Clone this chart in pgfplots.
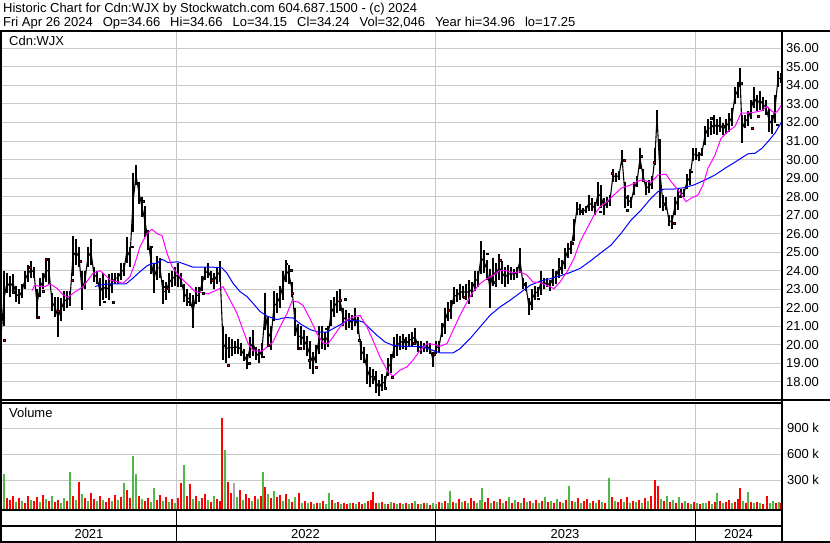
\documentclass[border=0pt]{standalone}
\usepackage{pgfplots}
\pgfplotsset{compat=1.18}
\usepackage{pgfplotstable}
\usepackage{fontspec}
\setmainfont{Liberation Sans}

\definecolor{gridgray}{RGB}{200,200,200}
\definecolor{volred}{RGB}{255,0,0}
\definecolor{volgreen}{RGB}{80,184,72}
\definecolor{volgray}{RGB}{168,168,168}
\definecolor{mafast}{RGB}{255,0,255}
\definecolor{maslow}{RGB}{0,0,255}

% daily range (low/high), x in chart columns
\pgfplotstableread{
x lo hi
1 20.3 20.7
4 21.0 24.0
7 22.8 23.9
10 22.6 23.7
13 22.9 23.8
16 22.3 23.2
19 22.2 23.0
22 22.5 23.3
25 23.0 24.0
28 23.4 24.3
31 23.6 24.5
34 23.6 24.2
37 21.4 23.0
40 22.6 23.6
43 23.0 23.9
46 23.4 24.6
49 23.3 24.7
52 21.8 22.8
55 21.5 22.6
58 20.4 22.6
61 21.3 22.5
64 21.8 22.9
67 22.0 22.9
70 22.1 22.9
73 23.7 25.9
76 24.3 25.7
79 24.2 25.3
82 21.9 24.0
85 23.0 24.0
88 24.2 25.3
91 24.3 25.7
94 23.4 24.2
97 23.3 24.0
100 22.1 23.6
103 22.4 23.9
106 22.5 23.5
109 22.4 23.8
112 22.8 23.9
115 23.3 23.9
118 23.3 23.9
121 23.5 24.4
124 23.7 24.4
127 24.4 25.8
130 24.2 25.3
133 26.1 29.3
136 28.6 29.7
139 27.6 28.8
142 26.9 28.0
145 25.8 27.5
148 25.1 26.2
151 23.8 25.3
154 22.8 24.4
157 23.5 24.8
160 23.6 24.7
163 22.2 23.5
166 22.4 23.4
169 22.8 23.9
172 23.1 24.0
175 23.2 24.2
178 23.1 24.4
181 23.1 23.9
184 22.3 23.3
187 22.1 23.0
190 22.1 22.8
193 20.9 22.7
196 22.2 23.1
199 22.3 23.1
202 22.9 23.7
205 23.5 24.2
208 23.6 24.4
211 23.3 24.0
214 23.0 23.9
217 23.3 24.2
220 23.4 24.5
223 19.2 21.0
226 19.0 20.6
229 19.3 20.4
232 19.4 20.3
235 19.5 20.2
238 19.5 20.3
241 19.4 20.1
244 19.1 19.8
247 18.7 19.5
250 19.3 20.4
253 19.4 20.8
256 19.2 19.9
259 19.0 19.8
262 19.3 20.1
265 20.8 22.8
268 19.9 21.5
271 19.7 21.0
274 21.3 22.9
277 21.7 22.8
280 22.0 23.2
283 22.4 24.0
286 23.4 24.6
289 23.3 24.3
292 22.6 23.4
295 20.5 22.0
298 19.7 21.1
301 20.0 21.0
304 19.7 20.8
307 19.4 20.5
310 18.7 20.2
313 18.4 19.6
316 19.0 20.0
319 19.5 21.0
322 19.8 21.0
325 19.7 20.7
328 19.9 21.0
331 21.0 22.4
334 21.5 22.6
337 21.7 22.9
340 21.8 23.0
343 21.0 22.0
346 20.8 21.9
349 20.9 21.7
352 20.8 21.6
355 21.0 22.0
358 20.6 21.5
361 19.2 20.2
364 19.0 19.9
367 17.9 19.5
370 17.7 18.8
373 17.9 18.7
376 17.4 18.6
379 17.25 18.1
382 17.5 18.4
385 17.6 18.3
388 18.3 19.3
391 18.5 19.5
394 19.3 20.4
397 19.4 20.6
400 19.7 20.5
403 19.8 20.6
406 19.7 20.4
409 19.9 20.6
412 19.9 20.7
415 20.0 20.9
418 19.6 20.2
421 19.5 20.2
424 19.6 20.1
427 19.6 20.2
430 19.5 20.1
433 18.8 19.6
436 19.5 20.2
439 19.6 20.2
442 20.4 21.2
445 20.6 22.0
448 21.3 22.3
451 21.4 22.4
454 22.2 23.1
457 22.3 23.0
460 22.4 23.3
463 22.5 23.2
466 22.4 23.3
469 22.2 23.5
472 22.6 23.4
475 22.9 24.0
478 23.1 24.0
481 23.8 25.6
484 23.9 25.1
487 23.5 24.6
490 22.0 24.1
493 23.2 24.7
496 23.1 24.4
499 23.5 24.9
502 23.3 24.5
505 23.1 24.2
508 23.3 24.3
511 23.5 24.2
514 23.5 24.1
517 23.6 24.2
520 23.9 25.2
523 23.0 23.6
526 22.9 23.4
529 21.6 22.5
532 21.9 23.0
535 22.4 23.2
538 22.6 23.1
541 22.7 24.0
544 23.0 23.6
547 23.1 23.6
550 22.9 23.5
553 23.2 24.1
556 23.3 24.0
559 23.6 24.7
562 23.8 24.6
565 24.1 25.2
568 24.7 25.5
571 24.9 25.6
574 25.6 26.8
577 27.0 27.7
580 27.0 27.6
583 27.0 27.4
586 27.1 27.5
589 27.2 28.1
592 27.2 27.9
595 27.0 27.7
598 27.5 28.8
601 27.4 28.6
604 27.0 27.9
607 27.4 28.0
610 27.5 28.1
613 28.8 29.5
616 28.8 29.3
619 28.9 29.4
622 29.7 30.5
625 27.4 28.8
628 27.5 28.1
631 27.4 28.0
634 28.1 28.8
637 28.5 29.1
640 29.5 30.6
643 28.8 29.5
646 28.1 28.8
649 28.2 28.9
652 28.4 29.1
655 29.7 30.6
657 32.0 32.65
660 27.4 31.1
663 27.2 28.1
666 27.3 28.0
669 26.4 27.0
672 26.25 27.0
675 27.0 28.0
678 27.3 28.4
681 27.9 28.4
684 28.0 28.4
687 28.4 29.2
690 28.6 29.5
693 29.9 30.6
696 30.0 30.6
699 29.9 30.4
702 30.2 30.6
705 30.8 31.8
708 31.2 32.2
711 31.3 32.1
714 31.4 32.4
717 31.3 32.2
720 31.5 32.3
723 31.3 32.0
726 31.4 32.2
729 31.5 32.5
732 31.8 32.8
735 33.0 33.9
738 33.3 34.2
740 33.9 34.96
742 30.9 32.4
745 31.7 32.4
748 31.8 32.6
751 32.2 33.2
754 32.8 33.9
757 32.6 33.5
760 32.7 33.7
763 32.6 33.4
766 32.4 33.2
769 31.5 32.8
772 31.4 32.4
775 32.0 33.5
778 33.9 34.8
781 34.15 34.66
}\pricedata

% closing prints shown in red
\pgfplotstableread{
x c
4 20.26
13 22.84
30 24.19
38 21.47
43 22.9
46 24.6
58 21.8
72 23.47
80 24.5
104 22.33
113 22.28
132 25.3
143 27.74
151 25.3
164 23.14
168 23.05
188 22.33
203 22.78
212 23.5
228 18.9
249 19.0
263 19.36
268 19.99
286 24.38
291 24.02
292 22.8
300 19.8
309 19.17
316 18.8
326 20.87
340 22.4
345 22.46
359 20.24
373 18.27
385 17.64
392 18.27
403 20.24
414 20.1
434 19.5
448 21.86
464 22.55
487 24.92
495 23.39
500 24.56
523 23.3
530 22.22
538 22.49
559 24.12
572 25.47
580 27.18
600 27.18
612 29.26
624 29.98
627 27.27
641 30.16
654 29.86
663 27.6
674 26.55
691 29.35
711 32.24
723 31.79
741 34.13
752 31.7
758 32.33
777 31.88
781 34.22
}\closedata

% short moving average
\pgfplotstableread{
x m
32 22.93
35 23.23
40 23.14
45 23.14
50 23.29
57 23.05
63 22.70
68 22.57
73 22.78
78 22.96
83 23.14
88 23.50
93 23.86
100 24.00
105 23.77
110 23.50
117 23.41
123 23.32
130 23.68
135 24.40
140 25.30
147 26.00
152 26.24
157 26.00
162 25.90
167 24.95
172 24.23
177 23.86
183 23.50
190 23.14
195 22.87
202 22.82
208 22.75
217 22.96
223 23.14
230 22.42
237 21.70
243 20.80
248 20.08
253 19.68
262 19.66
267 19.88
273 20.15
280 20.96
287 21.68
292 22.37
298 22.31
303 22.13
310 21.41
317 20.60
323 20.10
328 20.06
333 20.42
340 20.96
347 21.36
353 21.50
360 21.59
367 20.96
373 20.24
380 19.34
388 18.54
393 18.30
400 18.63
407 18.81
413 19.17
420 19.70
427 20.06
433 20.03
440 19.92
447 20.06
453 20.78
460 21.59
467 22.31
473 22.85
480 23.30
487 23.57
493 23.75
500 24.02
507 23.99
513 23.88
520 23.95
527 23.75
533 23.39
540 23.36
547 23.21
554 23.03
560 23.39
567 23.94
574 24.66
580 25.56
587 26.28
594 27.00
600 27.45
607 27.73
614 28.09
621 28.45
626 28.54
631 28.63
637 28.81
642 28.90
651 28.77
658 29.17
666 29.21
671 28.81
678 28.36
686 27.73
691 27.91
698 28.09
703 28.63
708 29.53
715 30.25
721 31.15
728 31.52
735 31.79
741 32.51
748 32.51
755 32.56
762 32.64
767 32.87
772 32.60
775 32.51
778 32.64
782 33.00
}\mafastdata

% long moving average
\pgfplotstableread{
x m
95 23.14
100 23.23
110 23.29
120 23.29
126 23.29
133 23.60
140 23.95
147 24.26
152 24.40
157 24.40
162 24.62
168 24.44
178 24.48
187 24.31
193 24.19
203 24.19
213 24.19
222 24.15
227 23.86
233 23.32
240 22.87
247 22.60
253 22.24
260 21.80
267 21.55
277 21.36
285 21.47
293 21.45
300 21.14
310 20.82
318 20.69
327 20.69
333 20.87
342 21.14
347 21.32
357 21.32
363 21.23
370 20.87
377 20.51
385 20.15
393 19.97
403 19.92
413 19.92
423 19.88
433 19.70
440 19.56
453 19.56
460 19.79
470 20.33
480 20.96
490 21.59
500 22.04
510 22.40
520 22.80
530 23.21
540 23.43
550 23.57
560 23.72
570 23.90
580 24.12
590 24.51
600 24.93
611 25.38
621 26.01
631 26.73
641 27.27
651 27.91
658 28.27
664 28.41
674 28.41
684 28.48
694 28.63
705 28.90
715 29.17
725 29.53
735 29.86
741 30.07
748 30.31
755 30.34
762 30.61
768 30.97
775 31.43
782 32.06
}\maslowdata

% volume in thousands; c: 0 down, 1 up, 2 unchanged
\pgfplotstableread{
x v c
1 60 1
4 365 1
7 90 0
10 70 0
13 110 0
16 50 1
19 95 0
22 60 1
25 40 0
28 120 0
31 70 1
34 55 0
37 100 0
40 45 1
43 130 0
46 80 1
49 60 0
52 110 1
55 50 0
58 75 0
61 40 1
64 95 1
67 60 0
70 388 1
73 120 0
76 70 1
79 273 0
82 140 1
85 90 0
88 60 1
91 150 0
94 80 0
97 55 1
100 110 0
103 70 1
106 45 0
109 90 0
112 60 1
115 130 0
118 75 1
121 100 0
124 265 1
127 185 0
130 90 0
133 577 1
136 365 1
139 120 0
142 80 1
145 60 0
148 95 0
151 50 1
154 211 1
157 70 0
160 130 0
163 60 1
166 100 0
169 45 1
172 80 0
175 40 1
178 90 0
181 269 0
184 473 1
187 120 0
190 250 0
193 80 1
196 110 0
199 60 1
202 95 0
205 140 0
208 70 1
211 50 0
214 110 1
217 80 0
220 60 0
222 1019 0
225 646 1
228 273 0
231 150 0
234 269 2
237 100 1
240 180 0
243 70 1
246 140 0
249 90 0
252 60 1
255 120 0
258 80 1
261 110 0
263 388 1
265 223 0
268 140 1
271 90 0
274 170 1
277 100 0
280 130 0
283 60 1
286 135 0
289 80 1
292 50 0
295 100 1
299 154 0
302 40 1
305 60 0
308 30 1
311 50 0
314 25 1
317 40 0
320 30 1
323 55 0
326 20 1
329 150 1
332 70 0
335 30 1
338 45 0
341 25 1
344 35 0
347 20 0
350 40 1
353 30 0
356 25 1
359 45 0
362 20 0
365 35 1
368 60 0
371 70 0
373 158 0
376 40 0
379 30 1
382 50 0
385 25 1
388 20 0
391 45 1
394 30 0
397 20 1
400 35 0
403 25 1
406 40 0
409 20 1
412 30 0
415 55 1
418 25 0
421 20 1
424 35 0
427 30 1
430 15 0
433 40 1
436 25 1
439 45 0
442 30 1
445 60 0
448 40 1
450 173 1
453 50 0
456 35 1
459 80 0
462 45 1
465 60 0
468 30 1
471 90 0
474 55 0
477 40 1
480 70 1
482 204 1
485 50 0
488 90 0
491 35 1
494 60 0
497 45 1
500 80 0
503 30 1
506 60 0
509 100 1
512 40 0
515 70 1
518 50 0
521 35 1
524 90 0
527 45 1
530 60 0
533 30 1
536 75 0
539 40 1
542 55 0
545 100 1
548 45 0
551 60 1
554 30 0
557 80 1
560 50 0
563 40 1
566 70 0
569 235 1
572 60 0
575 45 1
578 90 0
581 35 1
584 55 0
587 80 0
590 40 1
593 60 0
596 30 1
599 75 0
602 50 1
605 40 0
609 327 1
612 100 0
615 60 1
618 45 0
621 80 0
624 50 1
627 100 0
630 35 1
633 60 0
636 45 1
639 70 0
642 40 1
645 90 0
648 55 1
651 110 0
655 300 0
658 235 0
661 80 1
664 60 0
667 120 1
670 45 0
673 70 1
676 40 0
679 100 1
682 30 0
685 60 1
688 40 0
691 25 1
694 50 0
697 35 1
700 20 0
703 40 1
706 30 1
709 55 0
712 25 1
715 45 0
717 154 1
720 60 0
723 30 1
726 45 0
729 70 0
732 35 1
735 50 0
738 80 0
740 204 0
743 60 1
746 40 0
748 158 1
751 50 0
754 30 1
757 45 0
760 35 1
763 25 0
767 119 0
770 40 1
773 55 1
776 30 0
779 45 1
781 32 0
}\voldata

\newcommand{\lbl}{\fontsize{13}{15}\selectfont}
\newcommand{\fgap}{\hspace{10pt}}

\begin{document}
\begin{tikzpicture}[x=1pt,y=1pt]
\useasboundingbox (0,0) rectangle (830,543);
\fill[white] (0,0) rectangle (830,543);

% ---- price panel ----
\begin{axis}[
  at={(2pt,143pt)}, anchor=south west,
  scale only axis, width=780pt, height=367.5pt,
  xmin=2, xmax=782, ymin=17.02, ymax=36.86,
  axis line style={draw=none},
  xtick={176,435,695}, xticklabels={},
  ytick={18,19,...,36},
  yticklabels={18.00,19.00,20.00,21.00,22.00,23.00,24.00,25.00,26.00,27.00,28.00,29.00,30.00,31.00,32.00,33.00,34.00,35.00,36.00},
  yticklabel pos=right,
  yticklabel style={font=\lbl, anchor=west, inner sep=0pt, xshift=4pt},
  major tick length=0pt,
  grid=major, major grid style={draw=gridgray, line width=1pt},
  clip=true,
]
\addplot[black, line width=1.1pt, mark=none, forget plot]
  table[x=x, y expr=(\thisrow{hi}+\thisrow{lo})/2] {\pricedata};
\addplot[mark=none, forget plot, black, line width=2.5pt, draw opacity=0,
  error bars/.cd, y dir=minus, y explicit, error mark=none,
  error bar style={draw opacity=1, line width=2.5pt}]
  table[x=x, y=hi, y error expr=\thisrow{hi}-\thisrow{lo}] {\pricedata};
\addplot[maslow, line width=1pt, mark=none] table[x=x, y=m] {\maslowdata};
\addplot[mafast, line width=1pt, mark=none] table[x=x, y=m] {\mafastdata};
\addplot[only marks, mark=square*, mark size=0.9pt, mark options={fill=red, draw=none}]
  table[x=x, y=c] {\closedata};
\end{axis}

% ---- volume panel ----
\begin{axis}[
  at={(2pt,33pt)}, anchor=south west,
  scale only axis, width=780pt, height=106pt,
  xmin=2, xmax=782, ymin=-46, ymax=1177,
  axis line style={draw=none},
  xtick={176,435,695}, xticklabels={},
  ytick={300,600,900}, yticklabels={300 k,600 k,900 k},
  yticklabel pos=right,
  yticklabel style={font=\lbl, anchor=west, inner sep=0pt, xshift=5pt},
  major tick length=0pt,
  grid=major, major grid style={draw=gridgray, line width=1pt},
]
\addplot[volgreen, line width=2pt, draw opacity=0, mark=none,
  x filter/.expression={\thisrow{c}==1 ? x : nan},
  error bars/.cd, y dir=minus, y explicit, error mark=none,
  error bar style={draw opacity=1, line width=2pt}]
  table[x=x, y=v, y error expr=\thisrow{v}+50] {\voldata};
\addplot[volred, line width=2pt, draw opacity=0, mark=none,
  x filter/.expression={\thisrow{c}==0 ? x : nan},
  error bars/.cd, y dir=minus, y explicit, error mark=none,
  error bar style={draw opacity=1, line width=2pt}]
  table[x=x, y=v, y error expr=\thisrow{v}+50] {\voldata};
\addplot[volgray, line width=2pt, draw opacity=0, mark=none,
  x filter/.expression={\thisrow{c}==2 ? x : nan},
  error bars/.cd, y dir=minus, y explicit, error mark=none,
  error bar style={draw opacity=1, line width=2pt}]
  table[x=x, y=v, y error expr=\thisrow{v}+50] {\voldata};
\end{axis}

% ---- frame ----
\draw[line width=2pt] (0,512) -- (830,512);
\draw[line width=2pt] (1,0) -- (1,512);
\draw[line width=2pt] (782,0) -- (782,512);
\draw[line width=1.3pt] (0,143) -- (830,143);
\draw[line width=1.3pt] (0,140) -- (782,140);
\draw[line width=2pt] (0,33) -- (782,33);
\draw[line width=2pt] (0,16.5) -- (782,16.5);
\draw[line width=2pt] (0,1) -- (830,1);
\foreach \xx in {176,435,695} \draw[line width=1pt] (\xx,1) -- (\xx,33);

% ---- texts ----
\node[anchor=base west, inner sep=0pt, font=\lbl] at (3,530)
  {Historic Chart for Cdn:WJX by Stockwatch.com 604.687.1500 - (c) 2024};
\node[anchor=base west, inner sep=0pt, font=\lbl] at (3,516)
  {Fri Apr 26 2024\fgap Op=34.66\fgap Hi=34.66\fgap Lo=34.15\fgap Cl=34.24\fgap Vol=32,046\fgap Year hi=34.96\fgap lo=17.25};
\node[anchor=base west, inner sep=0pt, font=\lbl] at (9,497) {Cdn:WJX};
\node[anchor=base west, inner sep=0pt, font=\lbl] at (9,125) {Volume};
\node[anchor=base, inner sep=0pt, font=\lbl] at (89,4) {2021};
\node[anchor=base, inner sep=0pt, font=\lbl] at (305.5,4) {2022};
\node[anchor=base, inner sep=0pt, font=\lbl] at (565,4) {2023};
\node[anchor=base, inner sep=0pt, font=\lbl] at (738.5,4) {2024};
\end{tikzpicture}
\end{document}
